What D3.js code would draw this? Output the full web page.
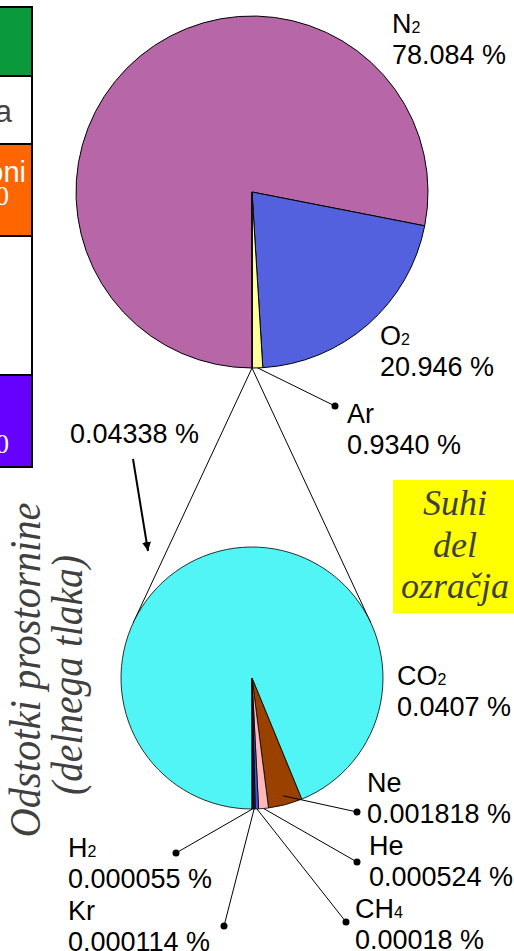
<!DOCTYPE html>
<html lang="sl">
<head>
<meta charset="utf-8">
<title>Sestava suhega zraka</title>
<script src="https://cdn.jsdelivr.net/npm/d3@7"></script>
<style>
  body { margin: 0; background: #fff; }
  svg { display: block; }
  .lbl { font-family: "Liberation Sans", Arial, sans-serif; font-size: 27px; fill: #000; }
  .ital { font-family: "Liberation Serif", "Times New Roman", serif; font-style: italic; fill: #404040; }
</style>
</head>
<body>
<script>
var w = 514, h = 951;

// big pie: all of dry air
var bigNames  = ["N2", "O2", "Ar", "ostalo"];
var bigValues = [78.084, 20.946, 0.9340, 0.04338];
var bigColors = ["#b767a7", "#5461de", "#ffff99", "#ffffff"];
var bigLabels = ["78.084 %", "20.946 %", "0.9340 %", "0.04338 %"];

// small pie: the remaining 0.04338 %
var smallNames  = ["CO2", "Ne", "He", "CH4", "Kr", "H2"];
var smallValues = [0.0407, 0.001818, 0.000524, 0.00018, 0.000114, 0.000055];
var smallColors = ["#52f5f5", "#9a4100", "#ffb7b7", "#3f55e0", "#1b1b70", "#000000"];
var smallLabels = ["0.0407 %", "0.001818 %", "0.000524 %", "0.00018 %", "0.000114 %", "0.000055 %"];

// left side boxes (cut off by the page edge)
var boxColors = ["#0b9a3b", "#ffffff", "#ff6600", "#ffffff", "#6600ff"];
var boxEdges  = [7, 76, 144, 236, 375, 467];

var svg = d3.select("body").append("svg").attr("width", w).attr("height", h);

// ---- boxes on the left
svg.selectAll("rect.box")
    .data(boxColors)
    .enter()
    .append("rect")
    .attr("class", "box")
    .attr("x", -100)
    .attr("y", function(d, i){ return boxEdges[i]; })
    .attr("width", 132)
    .attr("height", function(d, i){ return boxEdges[i + 1] - boxEdges[i]; })
    .attr("fill", function(d){ return d; })
    .attr("stroke", "#000")
    .attr("stroke-width", 2);

// what is left of the box texts
svg.append("text").attr("class", "lbl").attr("x", 12).attr("y", 122)
    .attr("text-anchor", "end").style("fill", "#444").style("font-size", "31px").text("a");
svg.append("text").attr("class", "lbl").attr("x", 26).attr("y", 182)
    .attr("text-anchor", "end").style("fill", "#fff").style("font-size", "29px").text("oni");
svg.append("text").attr("x", 9).attr("y", 205).attr("text-anchor", "end")
    .attr("font-family", "Liberation Serif, serif").attr("font-size", "27px")
    .attr("fill", "#fff").text("0");
svg.append("text").attr("x", 9).attr("y", 453).attr("text-anchor", "end")
    .attr("font-family", "Liberation Serif, serif").attr("font-size", "27px")
    .attr("fill", "#fff").text("0");

// ---- pies
var pie = d3.pie().sort(null).value(function(d){ return d; })
    .startAngle(Math.PI).endAngle(3 * Math.PI);

var bigC = [252, 192], bigR = 176;
var smallC = [252, 678], smallR = 131;

var bigArc = d3.arc().innerRadius(0).outerRadius(bigR);
var smallArc = d3.arc().innerRadius(0).outerRadius(smallR);

var bigArcs = pie(bigValues);
var smallArcs = pie(smallValues);

// connector lines from the bottom of the big pie, tangent to the small pie
var apex = [bigC[0], bigC[1] + bigR];
var dist = smallC[1] - apex[1];
var beta = Math.acos(smallR / dist);
[-1, 1].forEach(function(s){
    svg.append("line")
        .attr("x1", apex[0]).attr("y1", apex[1])
        .attr("x2", smallC[0] + s * smallR * Math.sin(beta))
        .attr("y2", smallC[1] - smallR * Math.cos(beta))
        .attr("stroke", "#000").attr("stroke-width", 1);
});

var gBig = svg.append("g").attr("transform", "translate(" + bigC + ")");
gBig.selectAll("path")
    .data(bigArcs)
    .enter()
    .append("path")
    .attr("d", bigArc)
    .attr("fill", function(d, i){ return bigColors[i]; })
    .attr("stroke", "#000")
    .attr("stroke-width", 1);

var gSmall = svg.append("g").attr("transform", "translate(" + smallC + ")");
gSmall.selectAll("path")
    .data(smallArcs)
    .enter()
    .append("path")
    .attr("d", smallArc)
    .attr("fill", function(d, i){ return smallColors[i]; })
    .attr("stroke", "#000")
    .attr("stroke-width", 0.8);

// ---- labels
function chemLabel(x, y, name, value){
    var sub = name.match(/^([A-Za-z]+?)(\d*)$/);
    var t = svg.append("text").attr("class", "lbl").attr("x", x).attr("y", y);
    t.append("tspan").text(sub[1]);
    if (sub[2]) t.append("tspan").attr("font-size", "16px").text(sub[2]);
    svg.append("text").attr("class", "lbl").attr("x", x).attr("y", y + 31).text(value);
}

function leader(p, dot){
    svg.append("line")
        .attr("x1", p[0]).attr("y1", p[1])
        .attr("x2", dot[0]).attr("y2", dot[1])
        .attr("stroke", "#000").attr("stroke-width", 1);
    svg.append("circle").attr("cx", dot[0]).attr("cy", dot[1]).attr("r", 3.5).attr("fill", "#000");
}

function edgePoint(arcGen, d, c, k){
    var a = (d.startAngle + d.endAngle) / 2;
    var r = arcGen.outerRadius()() * k;
    return [c[0] + r * Math.sin(a), c[1] - r * Math.cos(a)];
}

// big pie labels
chemLabel(392, 33, bigNames[0], bigLabels[0]);
chemLabel(380, 345, bigNames[1], bigLabels[1]);
leader(edgePoint(bigArc, bigArcs[2], bigC, 1), [335, 406]);
chemLabel(347, 423, bigNames[2], bigLabels[2]);
svg.append("text").attr("class", "lbl").attr("x", 70).attr("y", 443).text(bigLabels[3]);

// small pie labels
var smallPos = [[397, 685, null], [367, 792, [357, 812]], [369, 855, [357, 862]],
                [355, 918, [346, 922]], [68, 920, [224, 926]], [68, 857, [176, 853]]];
smallArcs.forEach(function(d, i){
    var p = smallPos[i];
    if (p[2]) leader(edgePoint(smallArc, d, smallC, i === 1 ? 0.93 : 1), p[2]);
    chemLabel(p[0], p[1], smallNames[i], smallLabels[i]);
});

// arrow from the 0.04338 % label
svg.append("defs").append("marker")
    .attr("id", "arr").attr("viewBox", "0 0 10 10")
    .attr("refX", 10).attr("refY", 5)
    .attr("markerWidth", 9).attr("markerHeight", 9)
    .attr("markerUnits", "userSpaceOnUse")
    .attr("orient", "auto")
    .append("path").attr("d", "M0,0L10,5L0,10z").attr("fill", "#000");
svg.append("line")
    .attr("x1", 133).attr("y1", 459).attr("x2", 148).attr("y2", 551)
    .attr("stroke", "#000").attr("stroke-width", 2)
    .attr("marker-end", "url(#arr)");

// ---- yellow note
svg.append("rect").attr("x", 393).attr("y", 480).attr("width", 121).attr("height", 133)
    .attr("fill", "#ffff00");
["Suhi", "del", "ozračja"].forEach(function(s, i){
    svg.append("text").attr("class", "ital")
        .attr("x", 455).attr("y", 515 + i * 41.5)
        .attr("text-anchor", "middle")
        .attr("font-size", "36px")
        .text(s);
});

// ---- rotated title
var gT = svg.append("g");
gT.append("text").attr("class", "ital")
    .attr("transform", "translate(40,670) rotate(-90)")
    .attr("text-anchor", "middle").attr("font-size", "44px")
    .attr("textLength", 335).attr("lengthAdjust", "spacingAndGlyphs")
    .text("Odstotki  prostornine");
gT.append("text").attr("class", "ital")
    .attr("transform", "translate(82,675) rotate(-90)")
    .attr("text-anchor", "middle").attr("font-size", "44px")
    .attr("textLength", 240).attr("lengthAdjust", "spacingAndGlyphs")
    .text("(delnega  tlaka)");
</script>
</body>
</html>
